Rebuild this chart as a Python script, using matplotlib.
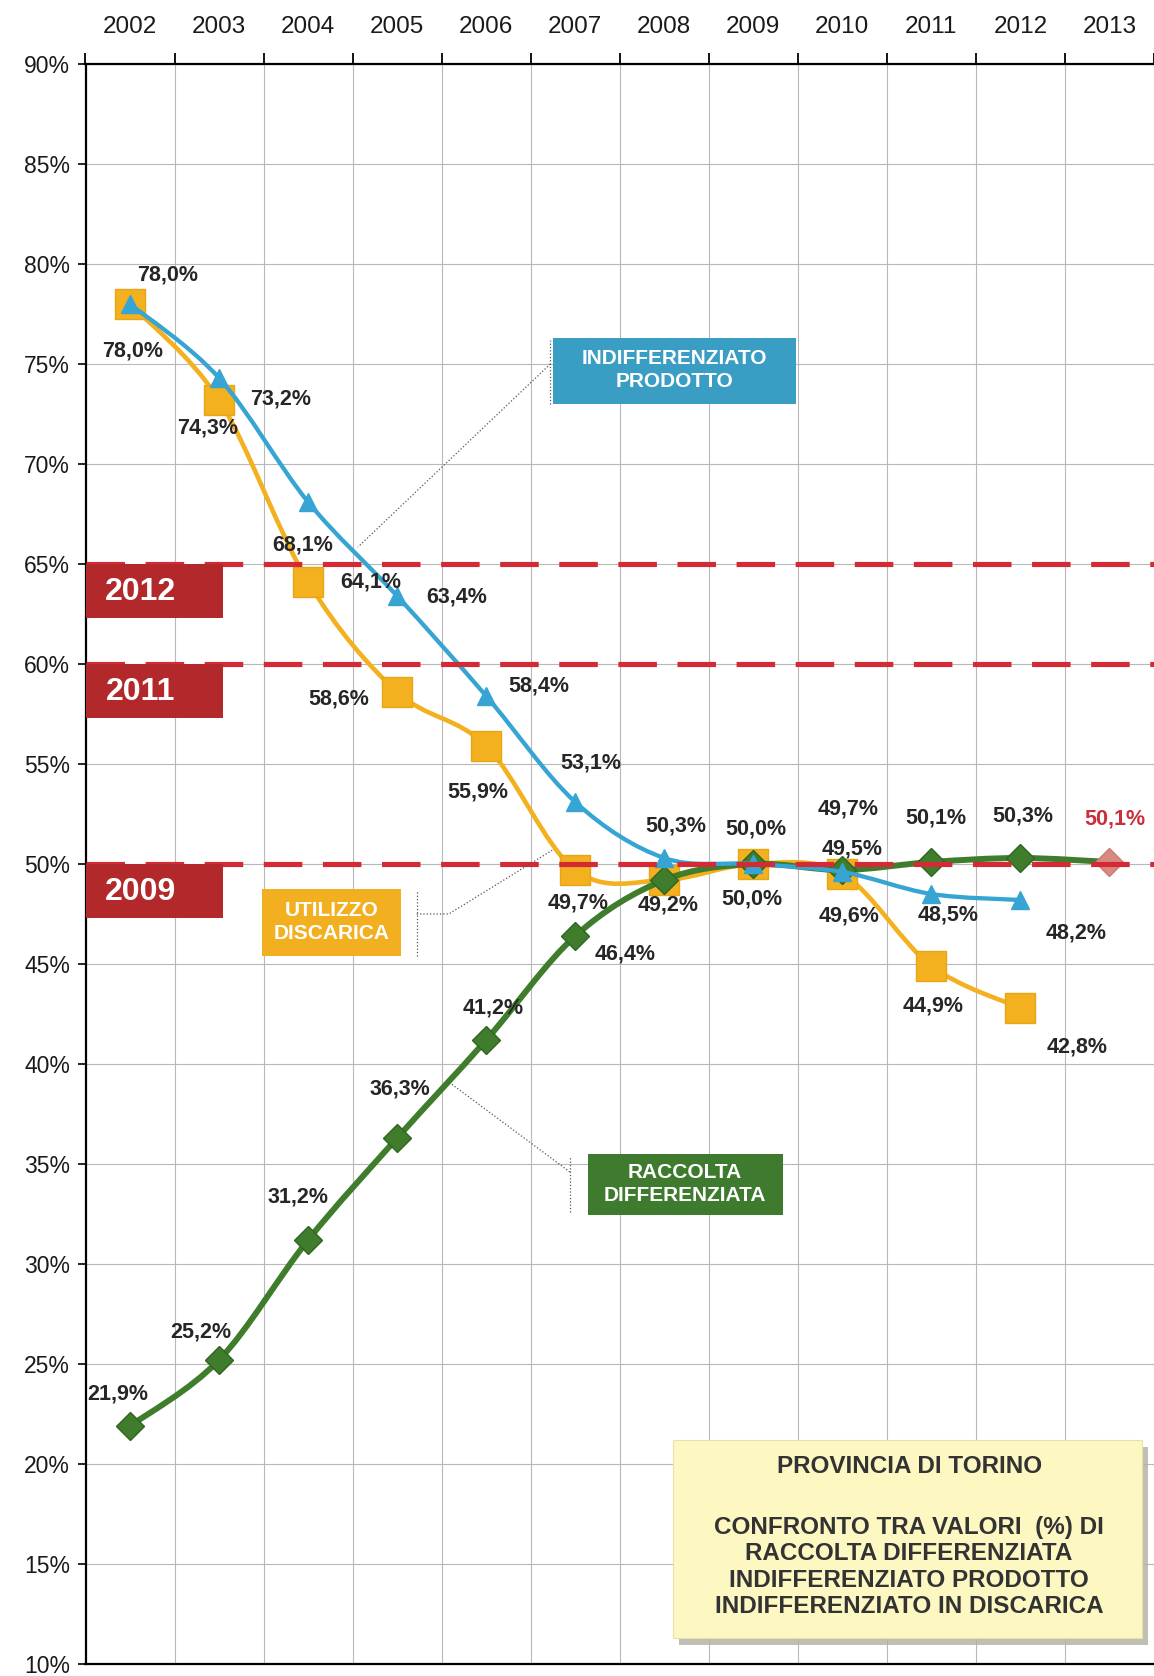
import numpy as np
import matplotlib
matplotlib.use("Agg")
import matplotlib.pyplot as plt
from matplotlib.path import Path
from matplotlib.patches import PathPatch, Rectangle

plt.rcParams['font.family'] = ['Liberation Sans', 'DejaVu Sans']

# %%
# data (values in %)
years = ["2002", "2003", "2004", "2005", "2006", "2007",
         "2008", "2009", "2010", "2011", "2012", "2013"]

raccolta = [21.9, 25.2, 31.2, 36.3, 41.2, 46.4, 49.2, 50.0, 49.7, 50.1, 50.3]
indiff_prodotto = [78.0, 74.3, 68.1, 63.4, 58.4, 53.1, 50.3, 50.0, 49.6, 48.5, 48.2]
discarica = [78.0, 73.2, 64.1, 58.6, 55.9, 49.7, 49.2, 50.0, 49.5, 44.9, 42.8]
target_2013 = 50.1

# regional targets (dashed lines + red tags)
target_levels = [65, 60, 50]
target_tags = ["2012", "2011", "2009"]

yticks = list(range(10, 91, 5))

# label offsets in points (dx, dy), one per point, None = no label
off_raccolta = [(-9, 23), (-13, 20), (-7, 31), (2, 35), (5, 23), (36, -13),
                (3, -18), None, (4, 44), (3, 32), (2, 30)]
off_prodotto = [(27, 21), (-8, -36), (-4, -31), (43, -1), (38, 7), (11, 28),
                (8, 23), (2, 25), (5, -32), (12, -15), (40, -24)]
off_discarica = [(2, -34), (44, 1), (45, 0), (-42, -5), (-6, -33), (2, -24),
                 None, (-1, -25), (7, 18), (1, -29), (41, -28)]
off_target = (4, 31)

C_GREEN = "#3f7d2c"
C_BLUE = "#36a5d3"
C_YELLOW = "#f3b01f"
C_RED = "#d42a35"
C_TAG = "#b3282b"


def smooth_path(xs, ys):
    """Catmull-Rom spline through the points, as a bezier path (like excel 'smooth line')"""
    p = np.column_stack([xs, ys]).astype(float)
    n = len(p)
    verts = [p[0]]
    codes = [Path.MOVETO]
    for i in range(n - 1):
        p0 = p[i - 1] if i > 0 else p[i]
        p3 = p[i + 2] if i + 2 < n else p[i + 1]
        c1 = p[i] + (p[i + 1] - p0) / 6.0
        c2 = p[i + 1] - (p3 - p[i]) / 6.0
        verts += [c1, c2, p[i + 1]]
        codes += [Path.CURVE4] * 3
    return Path(verts, codes)


def fmt(v):
    return f"{v:.1f}%".replace(".", ",")


fig = plt.figure(figsize=(11.54, 16.76), dpi=100)
ax = fig.add_axes([85.5 / 1154, 12 / 1676, 1 - 85.5 / 1154, 1600 / 1676])

xi = np.arange(len(years))
ax.set_xlim(-0.5, len(years) - 0.5)
ax.set_ylim(10, 90)

# grid on category boundaries
ax.set_xticks(np.arange(-0.5, len(years), 1.0))
ax.set_xticks(xi, minor=True)
ax.set_xticklabels([])
ax.set_xticklabels(years, minor=True, fontsize=17.5, color="#1a1a1a")
ax.xaxis.tick_top()
ax.tick_params(axis="x", which="major", length=8, width=1.3, direction="out")
ax.tick_params(axis="x", which="minor", length=0, pad=19)
ax.set_yticks(yticks)
ax.set_yticklabels([f"{t}%" for t in yticks], fontsize=16.5, color="#1a1a1a")
ax.tick_params(axis="y", length=6, width=1.2, pad=5)
ax.grid(True, which="major", color="#b8b8b8", lw=0.8)
ax.set_axisbelow(True)
for s in ["top", "left", "bottom"]:
    ax.spines[s].set_linewidth(1.6)
ax.spines["right"].set_visible(False)

# series
n = len(raccolta)
ax.add_patch(PathPatch(smooth_path(xi[:n], discarica), fc="none", ec=C_YELLOW, lw=3.3, zorder=3))
ax.plot(xi[:n], discarica, ls="none", marker="s", ms=21, mfc=C_YELLOW, mec="#e8a515", zorder=3)

green_x = list(xi[:n]) + [xi[-1]]
green_y = raccolta + [target_2013]
ax.add_patch(PathPatch(smooth_path(green_x, green_y), fc="none", ec=C_GREEN, lw=4.3, zorder=4))
ax.plot(xi[:n], raccolta, ls="none", marker="D", ms=14, mfc=C_GREEN, mec="#2f6421", zorder=4)
ax.plot([xi[-1]], [target_2013], ls="none", marker="D", ms=14, mfc="#d98a80", mec="#c97a72", zorder=4)

ax.add_patch(PathPatch(smooth_path(xi[:n], indiff_prodotto), fc="none", ec=C_BLUE, lw=3.1, zorder=5))
ax.plot(xi[:n], indiff_prodotto, ls="none", marker="^", ms=12.5, mfc=C_BLUE, mec=C_BLUE, zorder=5)

# dashed target lines and red tags
for lev, tag in zip(target_levels, target_tags):
    ax.axhline(lev, color=C_RED, lw=3.7, dashes=(7.5, 4), zorder=6)
    ax.add_patch(Rectangle((-0.5, lev - 2.68), 1.54, 2.68, fc=C_TAG, ec="none", zorder=7))
    ax.text(0.12, lev - 1.42, tag, color="white", fontsize=23, fontweight="bold",
            ha="center", va="center", zorder=8)

# data labels
lab_kw = dict(textcoords="offset points", ha="center", va="center", fontsize=15.5,
              fontweight="bold", color="#262626", zorder=9)
for vals, offs in [(raccolta, off_raccolta), (indiff_prodotto, off_prodotto),
                   (discarica, off_discarica)]:
    for x, v, o in zip(xi, vals, offs):
        if o is None:
            continue
        ax.annotate(fmt(v), (x, v), xytext=(o[0], o[1]), **lab_kw)
lab_kw["color"] = "#c8303c"
ax.annotate(fmt(target_2013), (xi[-1], target_2013), xytext=off_target, **lab_kw)

# callout boxes with dotted leaders
box_font = dict(color="white", fontweight="bold", ha="center", va="center",
                fontsize=15, linespacing=1.25, zorder=9)
lead = dict(color="#555555", lw=0.9, ls=":", zorder=8)

ax.add_patch(Rectangle((4.75, 73.0), 2.73, 3.3, fc="#3a9dc4", ec="none", zorder=8))
ax.text(6.115, 74.7, "INDIFFERENZIATO\nPRODOTTO", **box_font)
ax.plot([4.72, 4.72], [73.0, 76.2], **lead)
ax.plot([4.72, 2.56], [75.0, 65.85], **lead)

ax.add_patch(Rectangle((1.48, 45.4), 1.56, 3.36, fc="#f2b021", ec="none", zorder=8))
ax.text(2.26, 47.1, "UTILIZZO\nDISCARICA", **box_font)
ax.plot([3.22, 3.22], [45.4, 48.7], **lead)
ax.plot([3.22, 3.58, 4.76], [47.5, 47.5, 50.74], **lead)

ax.add_patch(Rectangle((5.14, 32.47), 2.19, 3.04, fc="#3e7b2f", ec="none", zorder=8))
ax.text(6.235, 34.0, "RACCOLTA\nDIFFERENZIATA", **box_font)
ax.plot([4.94, 4.94], [32.6, 35.4], **lead)
ax.plot([4.94, 3.58], [34.6, 39.1], **lead)

# title box
ax.add_patch(Rectangle((6.17, 10.95), 5.26, 9.9, fc="#b0b0a0", ec="none", zorder=8, alpha=0.8))
ax.add_patch(Rectangle((6.10, 11.31), 5.26, 9.9, fc="#fdf8c2", ec="#e8e2a8", lw=0.8, zorder=8))
ax.text(8.75, 19.9, "PROVINCIA DI TORINO", fontsize=17.5, fontweight="bold", color="#333333",
        ha="center", va="center", zorder=9)
ax.text(8.75, 14.85,
        "CONFRONTO TRA VALORI  (%) DI\nRACCOLTA DIFFERENZIATA\n"
        "INDIFFERENZIATO PRODOTTO\nINDIFFERENZIATO IN DISCARICA",
        fontsize=17.5, fontweight="bold", color="#333333", ha="center", va="center",
        linespacing=1.2, zorder=9)

fig.savefig("out.png", dpi=100)
